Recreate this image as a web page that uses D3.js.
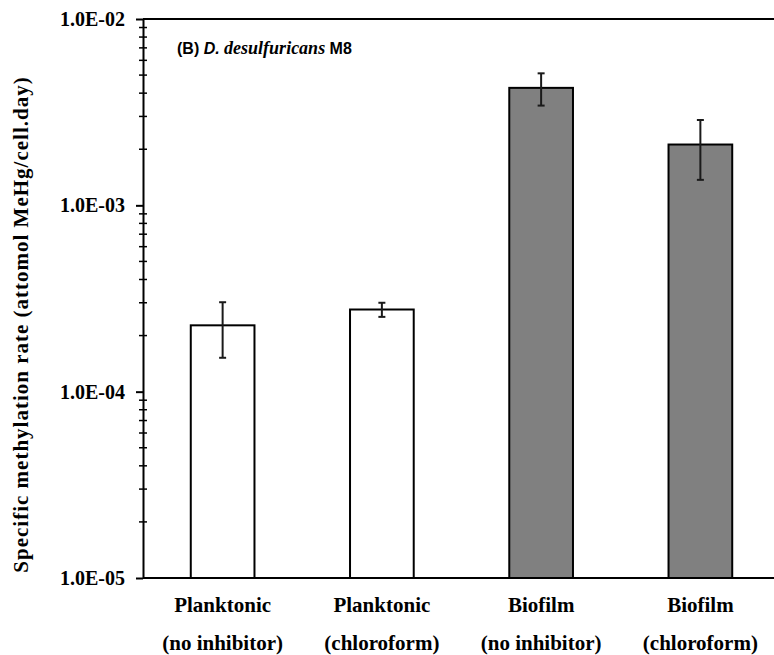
<!DOCTYPE html>
<html>
<head>
<meta charset="utf-8">
<script src="https://cdn.jsdelivr.net/npm/d3@7"></script>
<style>
  html, body { margin: 0; padding: 0; background: #fff; }
  svg { display: block; }
</style>
</head>
<body>
<svg id="chart" width="774" height="655"></svg>
<script>
// Specific methylation rates, D. desulfuricans M8
const groups    = ["Planktonic", "Planktonic", "Biofilm", "Biofilm"];
const treatments = ["(no inhibitor)", "(chloroform)", "(no inhibitor)", "(chloroform)"];
const rates     = [2.27e-4, 2.76e-4, 4.27e-3, 2.12e-3];
const errors    = [0.75e-4, 0.24e-4, 0.84e-3, 0.75e-3];
const fills     = ["#ffffff", "#ffffff", "#808080", "#808080"];
const majorTicks = [1e-5, 1e-4, 1e-3, 1e-2];
const majorLabels = ["1.0E-05", "1.0E-04", "1.0E-03", "1.0E-02"];

const serif = "'Liberation Serif', 'Times New Roman', serif";
const sans = "'Liberation Sans', Arial, sans-serif";

const svg = d3.select("#chart");
const plotLeft = 143, plotRight = 780, plotTop = 19, plotBottom = 578;

const ids = d3.range(rates.length);
const x = d3.scaleBand().domain(ids).range([plotLeft, plotRight]).paddingInner(0.6).paddingOuter(0.3);
const y = d3.scaleLog().domain([1e-5, 1e-2]).range([plotBottom, plotTop]);

// top frame line
svg.append("line")
  .attr("x1", plotLeft).attr("x2", 774)
  .attr("y1", y(1e-2)).attr("y2", y(1e-2))
  .attr("stroke", "#000").attr("stroke-width", 2);

// bars
svg.append("g").selectAll("rect").data(ids).join("rect")
  .attr("x", i => x(i))
  .attr("width", x.bandwidth())
  .attr("y", i => y(rates[i]))
  .attr("height", i => y(1e-5) - y(rates[i]))
  .attr("fill", i => fills[i])
  .attr("stroke", "#000")
  .attr("stroke-width", 2);

// error bars
const eb = svg.append("g").attr("stroke", "#1a1a1a").attr("stroke-width", 2);
ids.forEach(i => {
  const cx = x(i) + x.bandwidth() / 2;
  const hi = y(rates[i] + errors[i]), lo = y(rates[i] - errors[i]);
  eb.append("line").attr("x1", cx).attr("x2", cx).attr("y1", hi).attr("y2", lo);
  eb.append("line").attr("x1", cx - 3.5).attr("x2", cx + 3.5).attr("y1", hi).attr("y2", hi);
  eb.append("line").attr("x1", cx - 3.5).attr("x2", cx + 3.5).attr("y1", lo).attr("y2", lo);
});

// x axis line
svg.append("line")
  .attr("x1", plotLeft).attr("x2", 774)
  .attr("y1", plotBottom).attr("y2", plotBottom)
  .attr("stroke", "#000").attr("stroke-width", 2);

// y axis with major ticks
const yAxis = d3.axisLeft(y)
  .tickValues(majorTicks)
  .tickSizeInner(7)
  .tickSizeOuter(0)
  .tickPadding(11)
  .tickFormat((d, i) => majorLabels[i]);

const gy = svg.append("g").attr("transform", `translate(${plotLeft},0)`).call(yAxis);
gy.select(".domain").attr("stroke", "#000").attr("stroke-width", 2);
gy.selectAll(".tick line").attr("stroke", "#000").attr("stroke-width", 2);
gy.selectAll(".tick text")
  .attr("font-family", serif).attr("font-weight", "bold")
  .attr("font-size", 20).attr("fill", "#000");

// minor ticks crossing the axis
const minor = y.ticks().filter(v => !majorTicks.some(m => Math.abs(m - v) / m < 1e-9));
svg.append("g").selectAll("line").data(minor).join("line")
  .attr("x1", plotLeft - 4).attr("x2", plotLeft + 4)
  .attr("y1", d => y(d)).attr("y2", d => y(d))
  .attr("stroke", "#000").attr("stroke-width", 1.5);

// category labels
const xl = svg.append("g")
  .attr("font-family", serif).attr("font-weight", "bold")
  .attr("font-size", 21).attr("text-anchor", "middle").attr("fill", "#000");
ids.forEach(i => {
  const cx = x(i) + x.bandwidth() / 2;
  xl.append("text").attr("x", cx).attr("y", 612).text(groups[i]);
  xl.append("text").attr("x", cx).attr("y", 650).text(treatments[i]);
});

// y axis title
svg.append("text")
  .attr("transform", `translate(28,${(77 + 572) / 2}) rotate(-90)`)
  .attr("text-anchor", "middle")
  .attr("font-family", serif).attr("font-weight", "bold")
  .attr("font-size", 21).attr("letter-spacing", 1)
  .attr("fill", "#000")
  .text("Specific methylation rate (attomol MeHg/cell.day)");

// panel title
const t = svg.append("text")
  .attr("x", 177).attr("y", 54)
  .attr("font-family", sans).attr("font-weight", "bold")
  .attr("font-size", 16).attr("fill", "#000");
t.append("tspan").text("(B) ");
t.append("tspan").attr("font-style", "italic").text("D. ");
t.append("tspan").attr("font-style", "italic").attr("font-family", serif)
  .attr("font-size", 18).text("desulfuricans");
t.append("tspan").text(" M8");
</script>
</body>
</html>
